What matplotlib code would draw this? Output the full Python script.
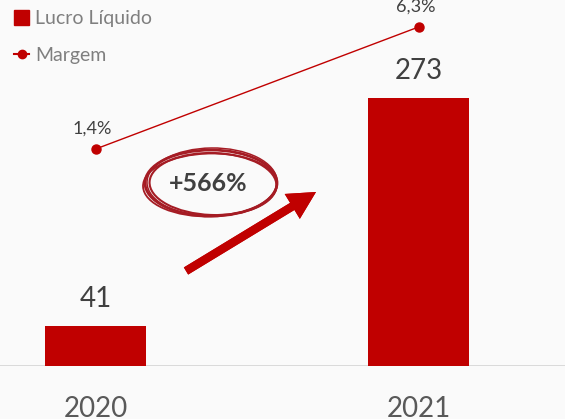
import matplotlib
matplotlib.use("Agg")
import matplotlib.pyplot as plt
from matplotlib.patches import Ellipse, Patch
from matplotlib.lines import Line2D

years = ["2020", "2021"]
lucro = [41, 273]
margem = [1.4, 6.3]
margem_labels = ["1,4%", "6,3%"]
growth_label = "+566%"

RED = "#c00000"
DARK = "#404040"
plt.rcParams['font.family'] = ['Lato', 'DejaVu Sans']

fig = plt.figure(figsize=(5.65, 4.19), dpi=100)
fig.patch.set_facecolor("#fafafa")
ax = fig.add_axes([0, 53/419, 1, 366/419])
ax.set_facecolor("none")
x = list(range(len(years)))
ax.bar(x, lucro, width=0.3127, color=RED, zorder=2)
ax.set_xlim(-95.5/323, (565-95.5)/323)
ax.set_ylim(0, 372.7)
ax.axhline(0, color="#d4d4d4", lw=1.2, zorder=1)
for xi, v in zip(x, lucro):
    ax.text(xi, v + 14, str(v), ha="center", va="bottom", fontsize=20, color=DARK)
for xi, y in zip(x, years):
    ax.text(xi, -44, y, ha="center", va="center", fontsize=20, color="#595959", clip_on=False)
for s in ax.spines.values():
    s.set_visible(False)
ax.set_xticks([]); ax.set_yticks([])

ax2 = ax.twinx()
ax2.set_ylim(-7.31, 7.385)
ax2.plot(x, margem, color=RED, lw=1, marker="o", markersize=6.5, zorder=3)
for xi, v, lab in zip(x, margem, margem_labels):
    ax2.text(xi - 0.01, v + 0.5, lab, ha="center", va="bottom", fontsize=13, color=DARK)
for s in ax2.spines.values():
    s.set_visible(False)
ax2.set_yticks([])
ax2.set_xlim(ax.get_xlim())

# legend
handles = [Patch(facecolor=RED, edgecolor=RED),
           Line2D([0], [0], color=RED, lw=1.5, marker="o", markersize=6)]
leg = fig.legend(handles, ["Lucro Líquido", "Margem"], loc="upper left",
                 bbox_to_anchor=(10/565, 1 - 6/419), frameon=False, fontsize=14,
                 handlelength=0.8, handleheight=0.85, handletextpad=0.3,
                 labelspacing=1.0, borderaxespad=0, borderpad=0.2)
for t in leg.get_texts():
    t.set_color("#7f7f7f")

# annotation: hand-drawn ellipse + text + arrow (figure pixel coords)
def fx(px):
    return px / 565
def fy(py):
    return 1 - py / 419
ecol = "#a51c24"
for dx, dy, w, h, ang, lw in [(0, 0, 132, 66, 0, 2.0), (2, 1, 127, 62, -3, 1.5),
                              (-1, 2, 134, 63, 2, 1.3), (1, -1, 130, 68, 1, 1.1)]:
    e = Ellipse((fx(211 + dx), fy(183 + dy)), w/565, h/419, angle=ang,
                transform=fig.transFigure, fill=False, edgecolor=ecol, lw=lw)
    fig.add_artist(e)
fig.text(fx(208), fy(183), growth_label, ha="center", va="center",
         fontsize=18, fontweight="bold", color=DARK)
fig.add_artist(plt.annotate("", xy=(fx(316), fy(192)), xytext=(fx(186), fy(271)),
               xycoords="figure fraction", textcoords="figure fraction",
               arrowprops=dict(arrowstyle="simple,head_length=1.0,head_width=1.05,tail_width=0.3",
                               mutation_scale=20, color=RED, lw=0, shrinkA=0, shrinkB=0)))

fig.savefig("out.png", dpi=100, facecolor=fig.get_facecolor())
